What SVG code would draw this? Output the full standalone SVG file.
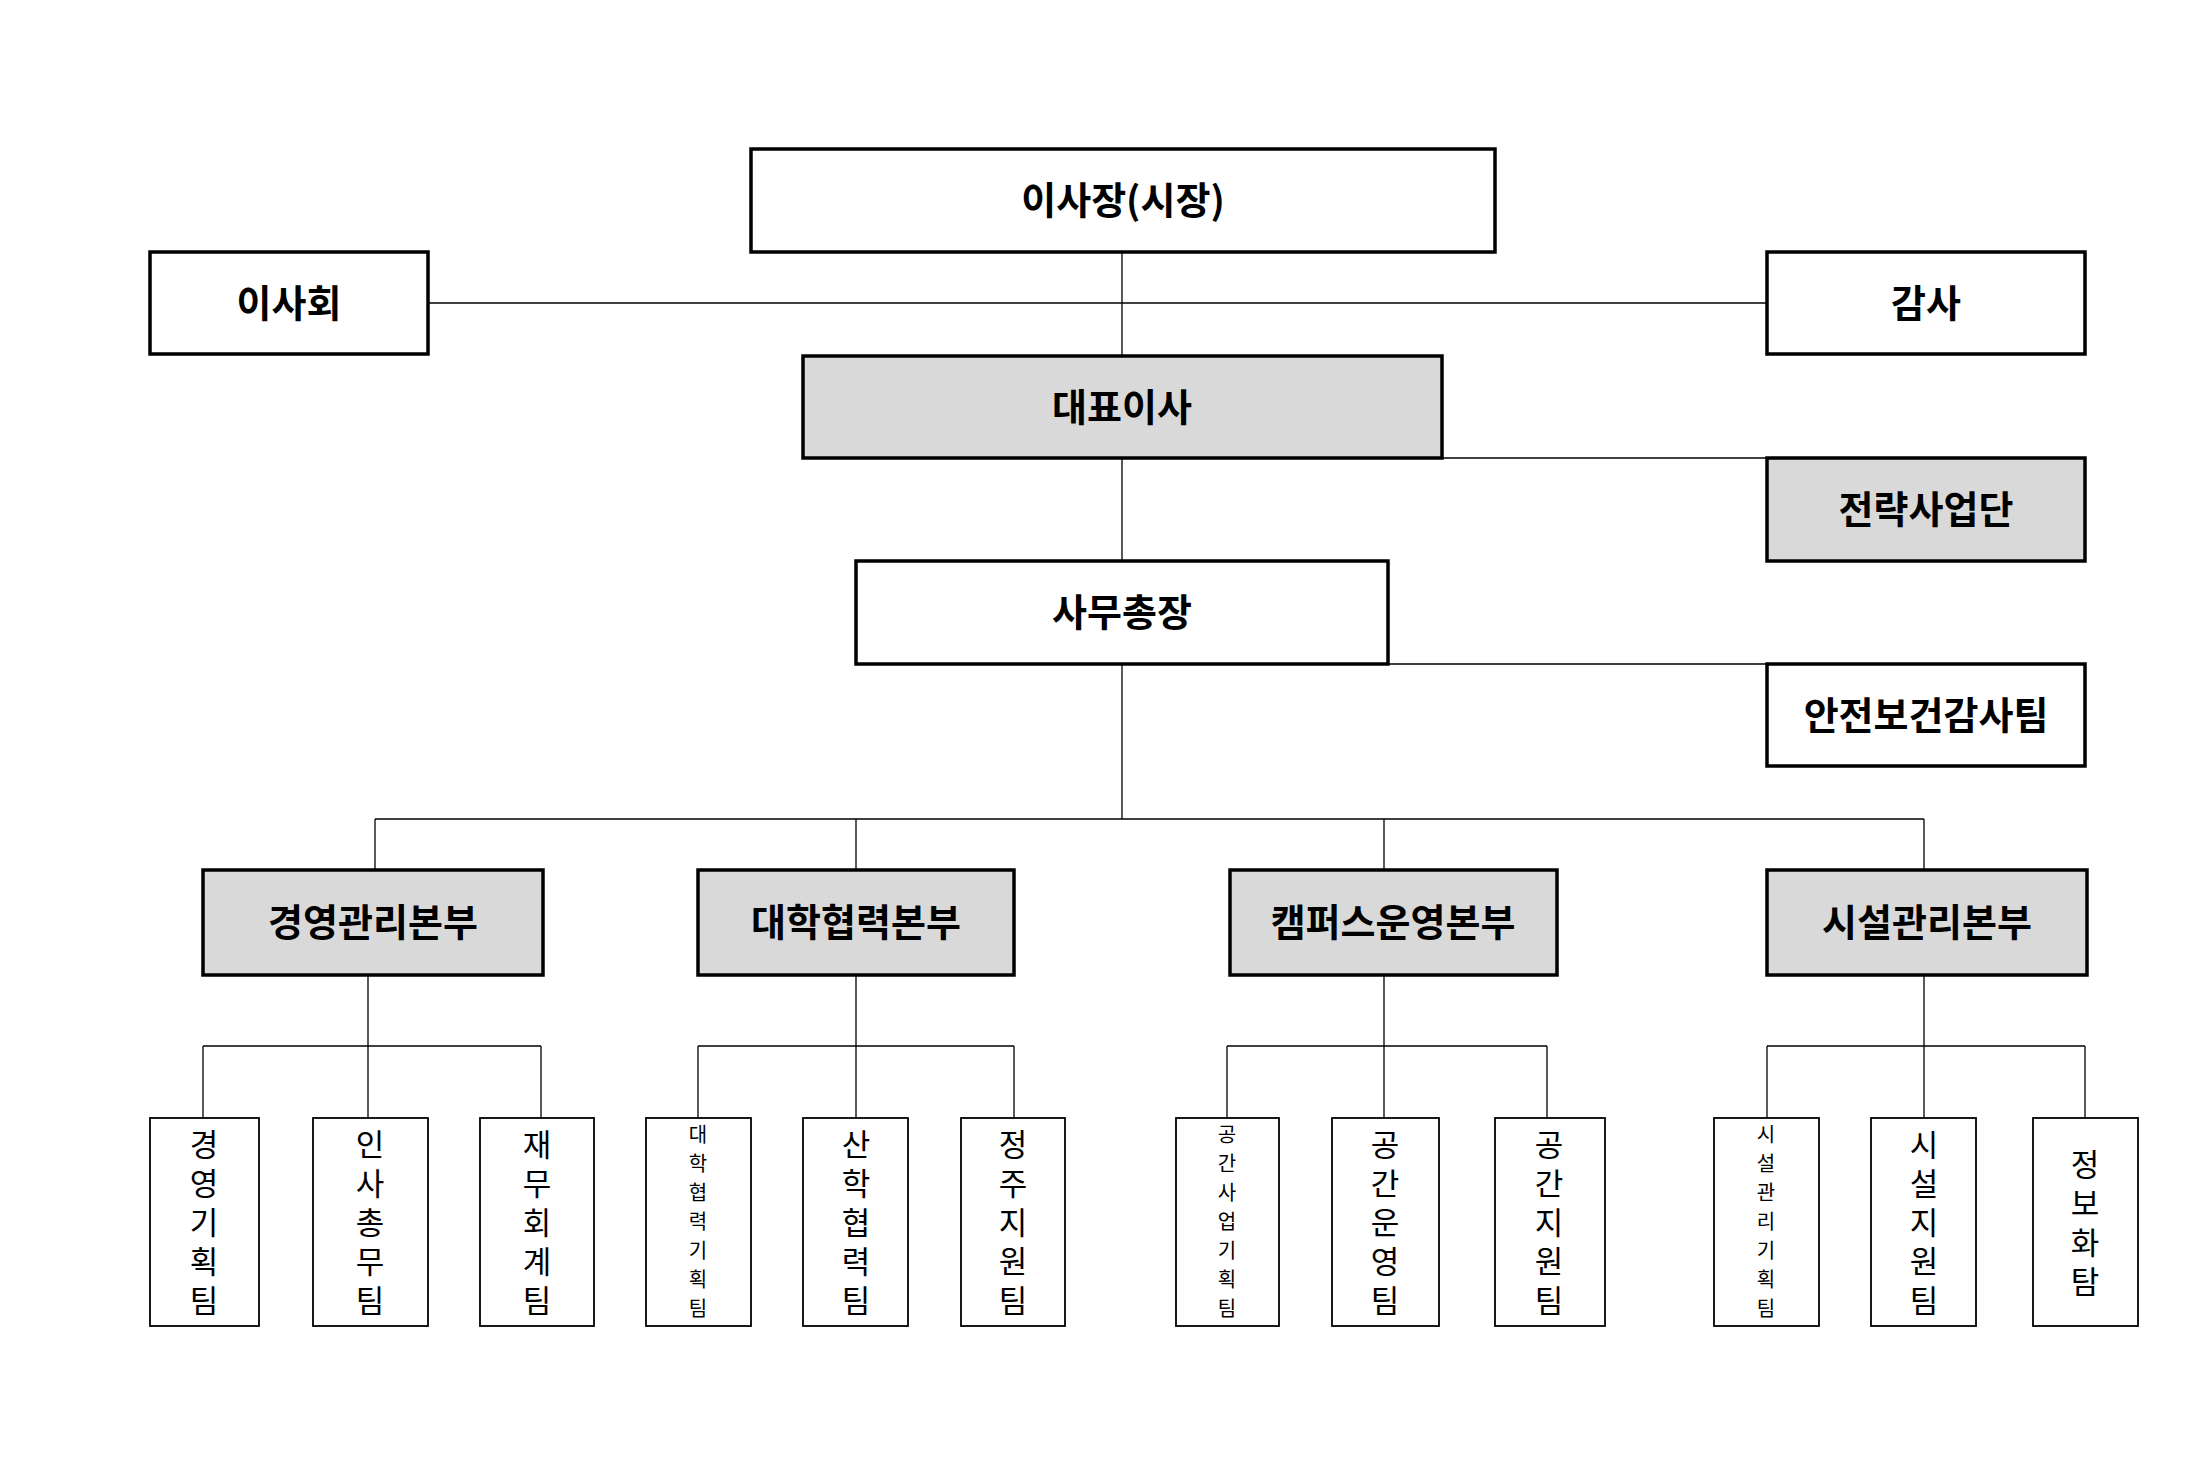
<svg xmlns="http://www.w3.org/2000/svg" width="2210" height="1462" viewBox="0 0 2210 1462">
<style>
.b{fill:#fff;stroke:#000;stroke-width:3.5}
.g{fill:#d9d9d9;stroke:#000;stroke-width:3.5}
.t{fill:#fff;stroke:#000;stroke-width:1.8}
.h{font-family:"Noto Sans CJK KR","Noto Sans",sans-serif;font-weight:bold;font-size:38px;text-anchor:middle}
.v{font-family:"Noto Sans CJK KR","Noto Sans",sans-serif;font-size:31px;text-anchor:middle}
.s{font-family:"Noto Sans CJK KR","Noto Sans",sans-serif;font-size:20px;text-anchor:middle}
.c line{stroke:#000;stroke-width:1.3}
</style>
<rect width="2210" height="1462" fill="#fff"/>
<g class="c">
<line x1="1122" y1="252" x2="1122" y2="819"/>
<line x1="428" y1="303" x2="1767" y2="303"/>
<line x1="1442" y1="458" x2="1767" y2="458"/>
<line x1="1388" y1="664" x2="1767" y2="664"/>
<line x1="375" y1="819" x2="1924" y2="819"/>
<line x1="375" y1="819" x2="375" y2="870"/>
<line x1="856" y1="819" x2="856" y2="870"/>
<line x1="1384" y1="819" x2="1384" y2="870"/>
<line x1="1924" y1="819" x2="1924" y2="870"/>
<line x1="368" y1="975" x2="368" y2="1118"/><line x1="203" y1="1046" x2="541" y2="1046"/><line x1="203" y1="1046" x2="203" y2="1118"/><line x1="541" y1="1046" x2="541" y2="1118"/>
<line x1="856" y1="975" x2="856" y2="1118"/><line x1="698" y1="1046" x2="1014" y2="1046"/><line x1="698" y1="1046" x2="698" y2="1118"/><line x1="1014" y1="1046" x2="1014" y2="1118"/>
<line x1="1384" y1="975" x2="1384" y2="1118"/><line x1="1227" y1="1046" x2="1547" y2="1046"/><line x1="1227" y1="1046" x2="1227" y2="1118"/><line x1="1547" y1="1046" x2="1547" y2="1118"/>
<line x1="1924" y1="975" x2="1924" y2="1118"/><line x1="1767" y1="1046" x2="2085" y2="1046"/><line x1="1767" y1="1046" x2="1767" y2="1118"/><line x1="2085" y1="1046" x2="2085" y2="1118"/>
</g>
<g id="chair"><rect class="b" x="751" y="149" width="744" height="103"/><text class="h" x="1123" y="214">이사장(시장)</text></g>
<g id="board"><rect class="b" x="150" y="252" width="278" height="102"/><text class="h" x="289" y="317">이사회</text></g>
<g id="audit"><rect class="b" x="1767" y="252" width="318" height="102"/><text class="h" x="1926" y="317">감사</text></g>
<g id="ceo"><rect class="g" x="803" y="356" width="639" height="102"/><text class="h" x="1122" y="421">대표이사</text></g>
<g id="strategy"><rect class="g" x="1767" y="458" width="318" height="103"/><text class="h" x="1926" y="523">전략사업단</text></g>
<g id="sg"><rect class="b" x="856" y="561" width="532" height="103"/><text class="h" x="1122" y="626">사무총장</text></g>
<g id="safety"><rect class="b" x="1767" y="664" width="318" height="102"/><text class="h" x="1926" y="729">안전보건감사팀</text></g>
<g id="d1"><rect class="g" x="203" y="870" width="340" height="105"/><text class="h" x="373" y="936">경영관리본부</text></g>
<g id="d2"><rect class="g" x="698" y="870" width="316" height="105"/><text class="h" x="856" y="936">대학협력본부</text></g>
<g id="d3"><rect class="g" x="1230" y="870" width="327" height="105"/><text class="h" x="1393" y="936">캠퍼스운영본부</text></g>
<g id="d4"><rect class="g" x="1767" y="870" width="320" height="105"/><text class="h" x="1927" y="936">시설관리본부</text></g>
<g id="t1"><rect class="t" x="150" y="1118" width="109" height="208"/><text class="v" x="204" y="1156"><tspan x="204">경</tspan><tspan x="204" dy="39">영</tspan><tspan x="204" dy="39">기</tspan><tspan x="204" dy="39">획</tspan><tspan x="204" dy="39">팀</tspan></text></g>
<g id="t2"><rect class="t" x="313" y="1118" width="115" height="208"/><text class="v" x="370" y="1156"><tspan x="370">인</tspan><tspan x="370" dy="39">사</tspan><tspan x="370" dy="39">총</tspan><tspan x="370" dy="39">무</tspan><tspan x="370" dy="39">팀</tspan></text></g>
<g id="t3"><rect class="t" x="480" y="1118" width="114" height="208"/><text class="v" x="537" y="1156"><tspan x="537">재</tspan><tspan x="537" dy="39">무</tspan><tspan x="537" dy="39">회</tspan><tspan x="537" dy="39">계</tspan><tspan x="537" dy="39">팀</tspan></text></g>
<g id="t4"><rect class="t" x="646" y="1118" width="105" height="208"/><text class="s" x="698" y="1142"><tspan x="698">대</tspan><tspan x="698" dy="29">학</tspan><tspan x="698" dy="29">협</tspan><tspan x="698" dy="29">력</tspan><tspan x="698" dy="29">기</tspan><tspan x="698" dy="29">획</tspan><tspan x="698" dy="29">팀</tspan></text></g>
<g id="t5"><rect class="t" x="803" y="1118" width="105" height="208"/><text class="v" x="856" y="1156"><tspan x="856">산</tspan><tspan x="856" dy="39">학</tspan><tspan x="856" dy="39">협</tspan><tspan x="856" dy="39">력</tspan><tspan x="856" dy="39">팀</tspan></text></g>
<g id="t6"><rect class="t" x="961" y="1118" width="104" height="208"/><text class="v" x="1013" y="1156"><tspan x="1013">정</tspan><tspan x="1013" dy="39">주</tspan><tspan x="1013" dy="39">지</tspan><tspan x="1013" dy="39">원</tspan><tspan x="1013" dy="39">팀</tspan></text></g>
<g id="t7"><rect class="t" x="1176" y="1118" width="103" height="208"/><text class="s" x="1227" y="1142"><tspan x="1227">공</tspan><tspan x="1227" dy="29">간</tspan><tspan x="1227" dy="29">사</tspan><tspan x="1227" dy="29">업</tspan><tspan x="1227" dy="29">기</tspan><tspan x="1227" dy="29">획</tspan><tspan x="1227" dy="29">팀</tspan></text></g>
<g id="t8"><rect class="t" x="1332" y="1118" width="107" height="208"/><text class="v" x="1385" y="1156"><tspan x="1385">공</tspan><tspan x="1385" dy="39">간</tspan><tspan x="1385" dy="39">운</tspan><tspan x="1385" dy="39">영</tspan><tspan x="1385" dy="39">팀</tspan></text></g>
<g id="t9"><rect class="t" x="1495" y="1118" width="110" height="208"/><text class="v" x="1549" y="1156"><tspan x="1549">공</tspan><tspan x="1549" dy="39">간</tspan><tspan x="1549" dy="39">지</tspan><tspan x="1549" dy="39">원</tspan><tspan x="1549" dy="39">팀</tspan></text></g>
<g id="t10"><rect class="t" x="1714" y="1118" width="105" height="208"/><text class="s" x="1766" y="1142"><tspan x="1766">시</tspan><tspan x="1766" dy="29">설</tspan><tspan x="1766" dy="29">관</tspan><tspan x="1766" dy="29">리</tspan><tspan x="1766" dy="29">기</tspan><tspan x="1766" dy="29">획</tspan><tspan x="1766" dy="29">팀</tspan></text></g>
<g id="t11"><rect class="t" x="1871" y="1118" width="105" height="208"/><text class="v" x="1924" y="1156"><tspan x="1924">시</tspan><tspan x="1924" dy="39">설</tspan><tspan x="1924" dy="39">지</tspan><tspan x="1924" dy="39">원</tspan><tspan x="1924" dy="39">팀</tspan></text></g>
<g id="t12"><rect class="t" x="2033" y="1118" width="105" height="208"/><text class="v" x="2085" y="1176"><tspan x="2085">정</tspan><tspan x="2085" dy="39">보</tspan><tspan x="2085" dy="39">화</tspan><tspan x="2085" dy="39">탐</tspan></text></g>
</svg>
